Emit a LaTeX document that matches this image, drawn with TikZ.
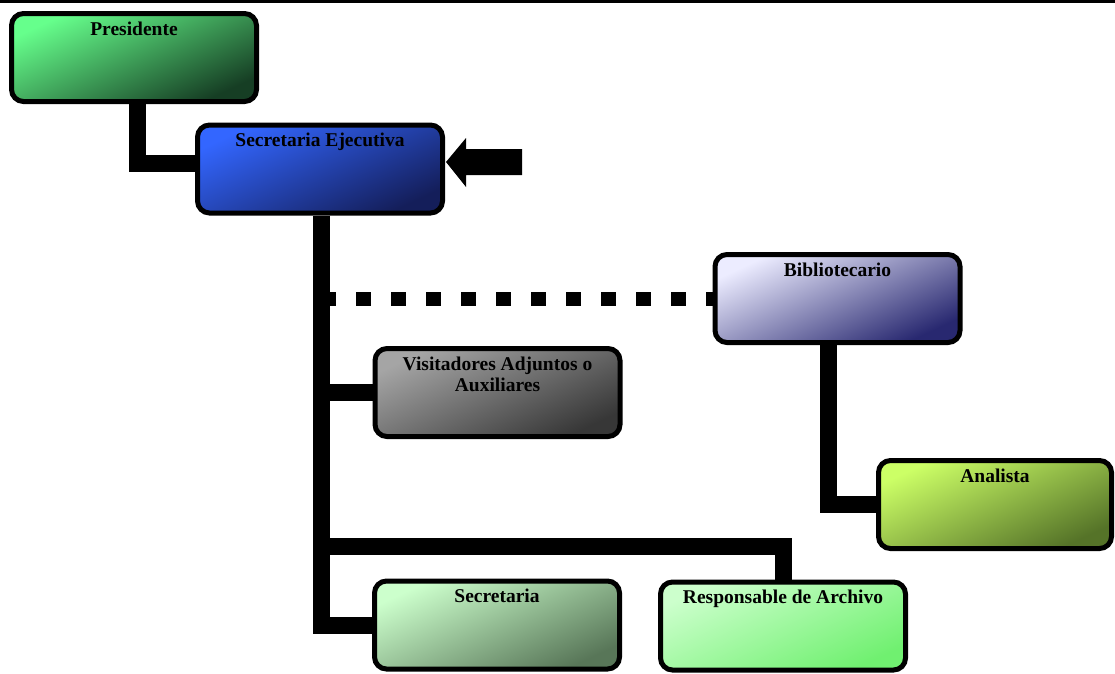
\documentclass[tikz,border=0pt]{standalone}
\usepackage{fontspec}
\setmainfont{Liberation Serif}
\usetikzlibrary{calc,backgrounds}

\definecolor{presL}{RGB}{102,255,140}
\definecolor{presD}{RGB}{22,62,36}
\definecolor{sejL}{RGB}{51,102,255}
\definecolor{sejD}{RGB}{20,30,90}
\definecolor{bibL}{RGB}{236,236,255}
\definecolor{bibD}{RGB}{40,40,112}
\definecolor{visL}{RGB}{165,165,165}
\definecolor{visD}{RGB}{55,55,55}
\definecolor{anaL}{RGB}{204,255,102}
\definecolor{anaD}{RGB}{85,115,40}
\definecolor{secL}{RGB}{204,255,204}
\definecolor{secD}{RGB}{88,118,88}
\definecolor{resL}{RGB}{204,255,204}
\definecolor{resD}{RGB}{112,240,112}

\tikzset{
  box/.style n args={3}{draw=black, line width=5pt, rounded corners=12pt,
    minimum width=245pt, minimum height=88pt, inner sep=0pt,
    top color=#1, bottom color=#2, shading angle=25,
    label={[anchor=north, yshift=-10.5pt, inner sep=0pt, align=center,
      font=\fontsize{19.5}{21}\selectfont\bfseries]north:#3}},
  link/.style={line width=17pt, line join=miter, draw=black},
  dotted link/.style={line width=14pt, draw=black, dash pattern=on 15pt off 20pt}
}

\begin{document}
\begin{tikzpicture}[x=1pt, y=-1pt]
  \useasboundingbox (0,0) rectangle (1115,673);
  % rule along the top edge
  \fill[black] (0,0) rectangle (1115,2.5);

  % positions
  \node[box={presL}{presD}{Presidente}] (pres) at (134,57.5) {};
  \node[box={sejL}{sejD}{Secretaria Ejecutiva}] (sej) at (320,169) {};
  \node[box={bibL}{bibD}{Bibliotecario}] (bib) at (837.5,298.5) {};
  \node[box={visL}{visD}{Visitadores Adjuntos o\\Auxiliares}] (vis) at (497.5,392.5) {};
  \node[box={anaL}{anaD}{Analista}, minimum width=233pt] (ana) at (995,504.5) {};
  \node[box={secL}{secD}{Secretaria}] (sec) at (497,625) {};
  \node[box={resL}{resD}{Responsable de Archivo}] (res) at (783,626) {};
  \coordinate (bus) at (321,546);

  % pointer arrow beside Secretaria Ejecutiva
  \fill[black] (446,162) -- (466,138) -- (466,149) -- (522,149)
    -- (522,175) -- (466,175) -- (466,187) -- cycle;

  \begin{scope}[on background layer]
    \draw[link] ($(pres.south)+(3,0)$) |- ($(sej.west)+(0,-6)$);
    \draw[link] ($(sej.south)+(1,0)$) |- (sec.west);
    \draw[link] ($(sej.south |- vis.west)+(1,0)$) -- (vis.west);
    \draw[link] (bus) -| (res.north);
    \draw[dotted link] ($(sej.south |- bib.west)+(1,0)$) -- (bib.west);
    \draw[link] ($(bib.south)+(-9,0)$) |- (ana.west);
  \end{scope}
\end{tikzpicture}
\end{document}
